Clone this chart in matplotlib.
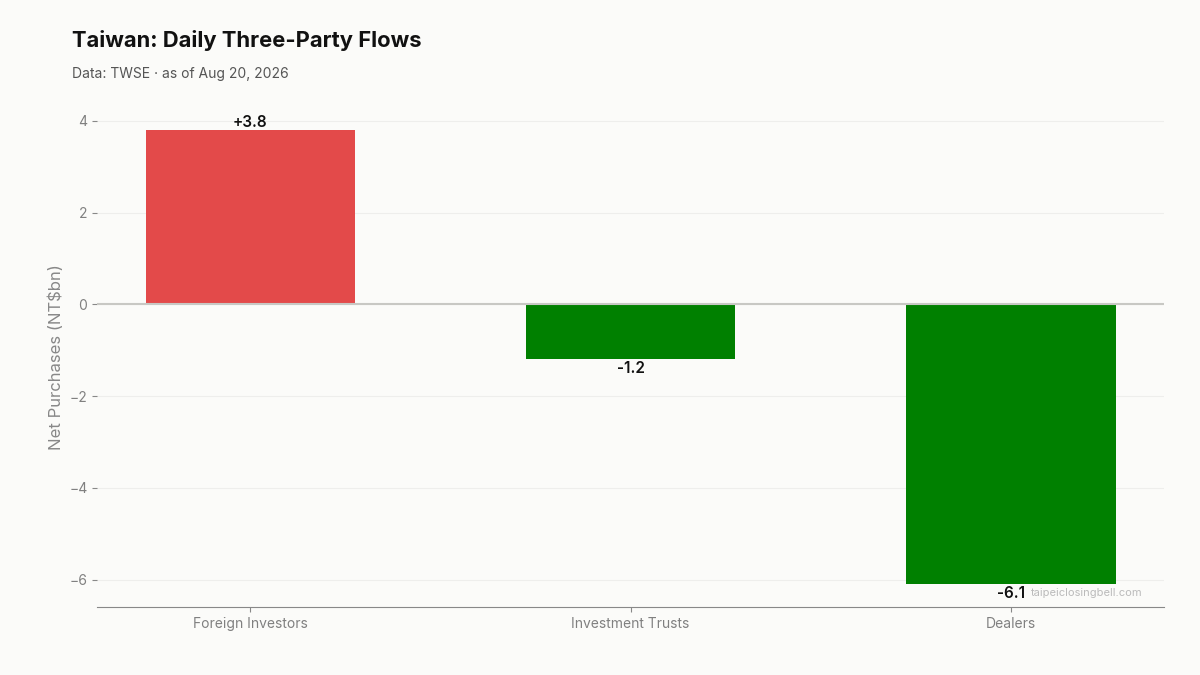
import matplotlib.pyplot as plt

# Three institutional investor net flows (NT$bn)
categories = ['Foreign Investors', 'Investment Trusts', 'Dealers']
net_flows = [3.8, -1.2, -6.1]
value_labels = ['+3.8', '-1.2', '-6.1']

plt.rcParams['font.family'] = ['Inter', 'DejaVu Sans']

bg = '#fbfbf9'
fig = plt.figure(figsize=(12, 6.75), dpi=100, facecolor=bg)
ax = fig.add_axes([0.081, 0.1007, 0.889, 0.7403])
ax.set_facecolor(bg)

colors = ['#e34a4a' if v > 0 else '#008000' for v in net_flows]
bars = ax.bar(categories, net_flows, width=0.55, color=colors, zorder=2)

for bar, v, lab in zip(bars, net_flows, value_labels):
    x = bar.get_x() + bar.get_width() / 2
    if v >= 0:
        ax.annotate(lab, (x, v), xytext=(0, 0), textcoords='offset points',
                    ha='center', va='bottom', fontsize=11, fontweight='semibold', color='#111111')
    else:
        ax.annotate(lab, (x, v), xytext=(0, -1), textcoords='offset points',
                    ha='center', va='top', fontsize=11, fontweight='semibold', color='#111111')

ax.axhline(0, color='#c8c8c4', linewidth=1.5, zorder=3)
ax.yaxis.grid(True, color='#eeeeec', linewidth=0.8, zorder=0)
ax.set_axisbelow(True)

for side in ['top', 'right', 'left']:
    ax.spines[side].set_visible(False)
ax.spines['bottom'].set_color('#888888')

ax.tick_params(axis='both', colors='#888888', labelsize=10, labelcolor='#808080')
ax.set_ylabel('Net Purchases (NT$bn)', fontsize=12, color='#888888')

fig.text(0.06, 0.94, 'Taiwan: Daily Three-Party Flows', fontsize=15.8,
         fontweight='bold', color='#111111', va='center')
fig.text(0.06, 0.891, 'Data: TWSE \u00b7 as of Aug 20, 2026', fontsize=10,
         color='#555555', va='center')
ax.text(0.98, 0.029, 'taipeiclosingbell.com', transform=ax.transAxes,
        ha='right', va='center', fontsize=8, color='#bbbbbb')

plt.savefig('out.png', dpi=100, facecolor=bg)
